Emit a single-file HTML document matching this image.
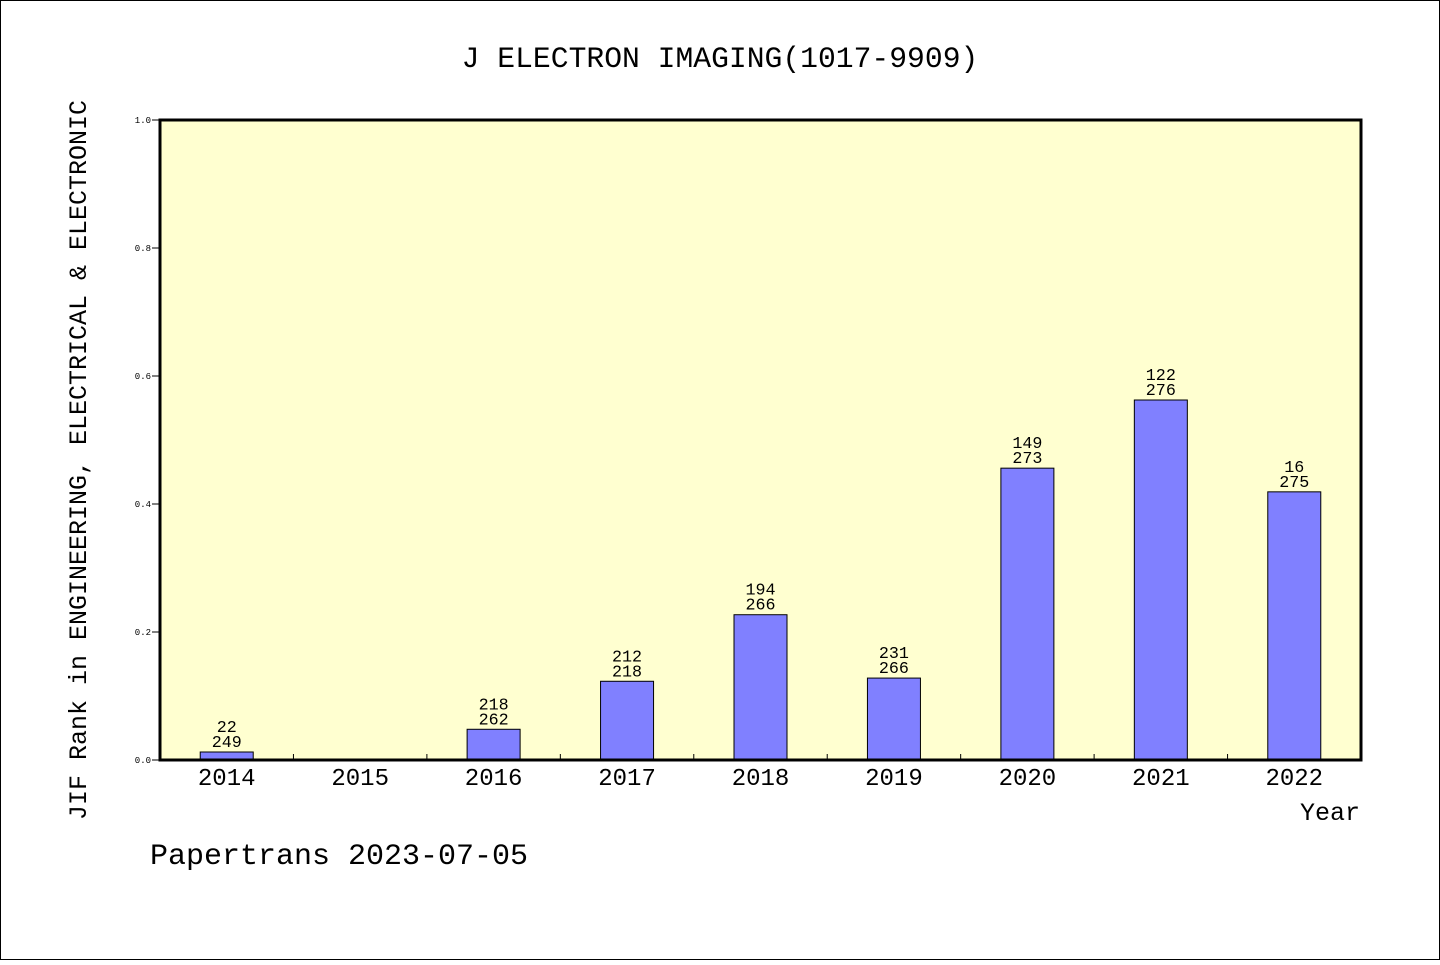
<!DOCTYPE html>
<html><head><meta charset="utf-8"><style>
body{margin:0;background:#fff}
svg text{font-family:"Liberation Mono","WenQuanYi Zen Hei",monospace;fill:#000}
</style></head><body>
<svg width="1440" height="960" xmlns="http://www.w3.org/2000/svg">
<rect x="0.5" y="0.5" width="1439" height="959" fill="#fff" stroke="#000"/>
<text x="720" y="67" font-size="29.7" text-anchor="middle">J ELECTRON IMAGING(1017-9909)</text>
<rect x="160" y="120" width="1201" height="640" fill="#ffffd0"/>
<g id="ticks"></g>
<g id="bars"></g>
<rect x="160" y="120" width="1201" height="640" fill="none" stroke="#000" stroke-width="3"/>
<text transform="translate(86,460) rotate(-90)" font-size="25" text-anchor="middle">JIF Rank in ENGINEERING, ELECTRICAL &amp; ELECTRONIC</text>
<text x="1360" y="820" font-size="25" text-anchor="end">Year</text>
<text x="150" y="864" font-size="30">Papertrans 2023-07-05</text>
<script>
const categories=["2014","2015","2016","2017","2018","2019","2020","2021","2022"];
const values=[0.0125,0,0.048,0.123,0.227,0.128,0.456,0.5625,0.419];
const ranks=["22","","218","212","194","231","149","122","16"];
const totals=["249","","262","218","266","266","273","276","275"];
const yTicks=[0,0.2,0.4,0.6,0.8,1.0];
const NS="http://www.w3.org/2000/svg";
const x0=160,pw=1201,y0=760,ph=640;
const step=pw/categories.length;
const xs=i=>x0+step*(i+0.5);
const ys=v=>y0-v*ph;
function mk(t,a,p){const e=document.createElementNS(NS,t);for(const k in a)e.setAttribute(k,a[k]);p.appendChild(e);return e;}
const tg=document.getElementById('ticks');
yTicks.forEach(v=>{
 const l=mk('line',{x1:x0-8,x2:x0,y1:ys(v),y2:ys(v),stroke:'#000'},tg);
 
 
 const t=mk('text',{x:x0-9,y:ys(v)+3,'font-size':9,'text-anchor':'end'},tg);
 t.textContent=v.toFixed(1);
 
 
});
const bg=document.getElementById('bars');
categories.forEach((c,i)=>{
 if(i>0){const l=mk('line',{x1:x0+step*i,x2:x0+step*i,y1:y0,y2:y0-6,stroke:'#000'},bg);
 
 }
 const t=mk('text',{x:xs(i),y:785,'font-size':24,'text-anchor':'middle'},bg);
 t.textContent=c;
 
 
 if(values[i]>0){
  const r=mk('rect',{x:xs(i)-26.5,y:ys(values[i]),width:53,height:values[i]*ph,fill:'#8080ff',stroke:'#000','stroke-width':1},bg);
  
  
  const a=mk('text',{x:xs(i),y:ys(values[i])-20,'font-size':16.7,'text-anchor':'middle'},bg);
  a.textContent=ranks[i];
  
  
  const b=mk('text',{x:xs(i),y:ys(values[i])-5,'font-size':16.7,'text-anchor':'middle'},bg);
  b.textContent=totals[i];
  
  
 }
});
</script>
</svg>
</body></html>
